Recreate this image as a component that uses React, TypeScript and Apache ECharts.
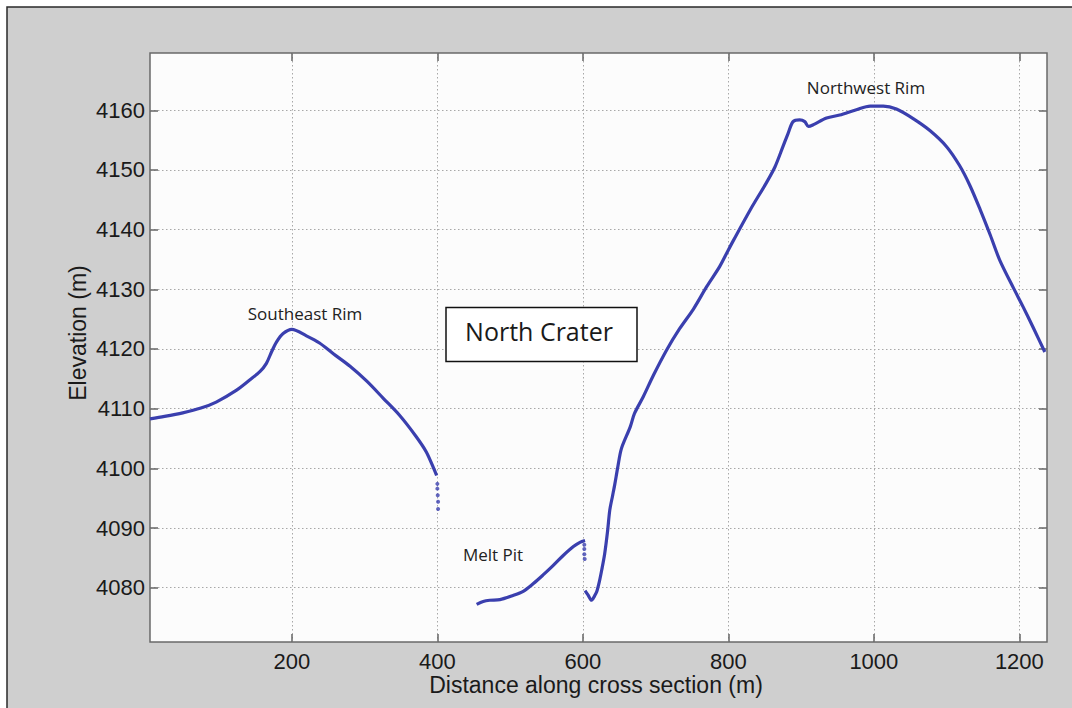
import React, { useEffect, useRef } from "react";
import * as echarts from "echarts";

// Distance along cross section (m)
const xTicks = [200, 400, 600, 800, 1000, 1200];
// Elevation (m)
const yTicks = [4080, 4090, 4100, 4110, 4120, 4130, 4140, 4150, 4160];

// Southeast Rim profile: [distance, elevation]
const southeastRim: [number, number][] = [
  [5, 4108.3], [25, 4108.7], [50, 4109.3], [75, 4110.1], [96, 4111.1], [124, 4113.1],
  [142, 4114.8], [156, 4116.2], [165, 4117.6], [172, 4119.5], [179, 4121.2], [188, 4122.6],
  [200, 4123.3], [220, 4122.2], [238, 4121.0], [257, 4119.2], [280, 4117.1], [303, 4114.6],
  [326, 4111.7], [348, 4108.9], [371, 4105.3], [385, 4102.7], [397, 4099.4], [399, 4098.8],
];
const southeastTail: [number, number][] = [
  [400, 4097.4], [400, 4096.6], [400.5, 4095.5], [401, 4094.4], [401, 4093.2],
];

// Melt Pit profile
const meltPit: [number, number][] = [
  [454, 4077.2], [463, 4077.7], [472, 4077.9], [486, 4078.0], [504, 4078.7], [518, 4079.4],
  [532, 4080.7], [545, 4082.1], [559, 4083.7], [573, 4085.4], [587, 4086.9], [596, 4087.6],
  [603, 4087.9],
];
const meltPitTail: [number, number][] = [
  [602, 4087.2], [602, 4086.5], [602, 4085.6], [602.5, 4084.8],
];

// Northwest Rim profile
const northwestRim: [number, number][] = [
  [603, 4079.5], [607, 4078.8], [612, 4077.9], [616, 4078.6], [619, 4079.3], [623, 4081.2],
  [626, 4083.0], [630, 4085.7], [634, 4089.5], [637, 4093.0], [641, 4095.5], [644, 4097.4],
  [648, 4100.2], [653, 4103.3], [665, 4106.9], [671, 4109.2], [683, 4112.0], [697, 4115.6],
  [715, 4119.8], [733, 4123.4], [752, 4126.7], [770, 4130.4], [788, 4133.8], [800, 4136.6],
  [807, 4138.2], [830, 4143.3], [852, 4147.8], [864, 4150.5], [875, 4153.9], [882, 4156.1],
  [889, 4158.1], [898, 4158.4], [905, 4158.1], [910, 4157.3], [917, 4157.6], [935, 4158.7],
  [953, 4159.2], [976, 4160.1], [995, 4160.7], [1013, 4160.7], [1031, 4160.2], [1054, 4158.6],
  [1077, 4156.6], [1100, 4153.9], [1118, 4150.7], [1132, 4147.4], [1146, 4143.4], [1160, 4139.1],
  [1173, 4134.9], [1192, 4130.2], [1205, 4127.1], [1219, 4123.6], [1235, 4119.5],
];

const X_MIN = 5;
const X_MAX = 1238;
const Y_MIN = 4070.9;
const Y_MAX = 4169.6;

const BLUE = "#3a3fae";
const LABEL_FONT = "Liberation Sans, Arial, Helvetica, sans-serif";
const NOTE_FONT = "'Open Sans', 'Noto Sans', sans-serif";

export default function App() {
  const ref = useRef<HTMLDivElement>(null);

  useEffect(() => {
    document.body.style.margin = "0";
    if (!ref.current) return;
    const chart = echarts.init(ref.current, null, { renderer: "svg" });

    const tickStyle = { show: true, inside: true, length: 8, lineStyle: { color: "#666", width: 1.5 } };
    const splitStyle = { show: true, lineStyle: { color: "#a8a8a8", width: 1, type: [1.5, 2.5] as any } };
    const labelStyle = {
      fontSize: 22,
      color: "#1a1a1a",
      fontFamily: LABEL_FONT,
      formatter: (v: number) => String(Math.round(v)),
    };
    const lineSeries = (data: [number, number][]) => ({
      type: "line",
      data,
      showSymbol: false,
      symbol: "none",
      smooth: 0.3,
      lineStyle: { color: BLUE, width: 3.2 },
      silent: true,
    });
    const dotSeries = (data: [number, number][]) => ({
      type: "scatter",
      data,
      symbolSize: 4,
      itemStyle: { color: BLUE },
      silent: true,
    });

    chart.setOption({
      animation: false,
      backgroundColor: "#ffffff",
      grid: {
        left: 150,
        top: 53,
        right: 25,
        bottom: 66,
        show: true,
        backgroundColor: "#fcfcfc",
        borderColor: "#6a6a6a",
        borderWidth: 1.5,
      },
      xAxis: [
        {
          type: "value",
          position: "bottom",
          min: X_MIN,
          max: X_MAX,
          splitNumber: 6,
          axisLine: { show: false },
          axisTick: { ...tickStyle, customValues: xTicks },
          axisLabel: { ...labelStyle, margin: 8, customValues: xTicks },
          splitLine: splitStyle,
        },
        {
          type: "value",
          position: "top",
          min: X_MIN,
          max: X_MAX,
          splitNumber: 6,
          axisLine: { show: false },
          axisTick: { ...tickStyle, customValues: xTicks },
          axisLabel: { show: false },
          splitLine: { show: false },
        },
      ],
      yAxis: [
        {
          type: "value",
          position: "left",
          min: Y_MIN,
          max: Y_MAX,
          splitNumber: 10,
          axisLine: { show: false },
          axisTick: { ...tickStyle, customValues: yTicks },
          axisLabel: { ...labelStyle, margin: 5, customValues: yTicks },
          splitLine: splitStyle,
        },
        {
          type: "value",
          position: "right",
          min: Y_MIN,
          max: Y_MAX,
          splitNumber: 10,
          axisLine: { show: false },
          axisTick: { ...tickStyle, customValues: yTicks },
          axisLabel: { show: false },
          splitLine: { show: false },
        },
      ],
      series: [
        lineSeries(southeastRim),
        dotSeries(southeastTail),
        lineSeries(meltPit),
        dotSeries(meltPitTail),
        lineSeries(northwestRim),
      ],
      graphic: [
        {
          type: "rect",
          z: -100,
          silent: true,
          shape: { x: 7, y: 7, width: 1100, height: 760 },
          style: { fill: "#cfcfcf", stroke: "#2a2a2a", lineWidth: 1.5 },
        },
        {
          type: "text",
          z: 100,
          x: 596,
          y: 685,
          silent: true,
          style: {
            text: "Distance along cross section (m)",
            font: `23px ${LABEL_FONT}`,
            fill: "#1a1a1a",
            align: "center",
            verticalAlign: "middle",
          },
        },
        {
          type: "text",
          z: 100,
          x: 78,
          y: 333,
          rotation: Math.PI / 2,
          silent: true,
          style: {
            text: "Elevation (m)",
            font: `23px ${LABEL_FONT}`,
            fill: "#1a1a1a",
            align: "center",
            verticalAlign: "middle",
          },
        },
        {
          type: "text",
          z: 100,
          x: 305,
          y: 313,
          silent: true,
          style: { text: "Southeast Rim", font: `17px ${NOTE_FONT}`, fill: "#222", align: "center", verticalAlign: "middle" },
        },
        {
          type: "text",
          z: 100,
          x: 866,
          y: 87,
          silent: true,
          style: { text: "Northwest Rim", font: `17px ${NOTE_FONT}`, fill: "#222", align: "center", verticalAlign: "middle" },
        },
        {
          type: "text",
          z: 100,
          x: 493,
          y: 554,
          silent: true,
          style: { text: "Melt Pit", font: `17px ${NOTE_FONT}`, fill: "#222", align: "center", verticalAlign: "middle" },
        },
        {
          type: "rect",
          z: 100,
          silent: true,
          shape: { x: 446, y: 307.5, width: 191, height: 54 },
          style: { fill: "#ffffff", stroke: "#111", lineWidth: 1.5 },
        },
        {
          type: "text",
          z: 101,
          x: 539,
          y: 331,
          silent: true,
          style: { text: "North Crater", font: `25px ${NOTE_FONT}`, fill: "#1a1a1a", align: "center", verticalAlign: "middle" },
        },
      ],
    });

    return () => {
      chart.dispose();
    };
  }, []);

  return <div ref={ref} style={{ width: 1072, height: 708 }} />;
}
